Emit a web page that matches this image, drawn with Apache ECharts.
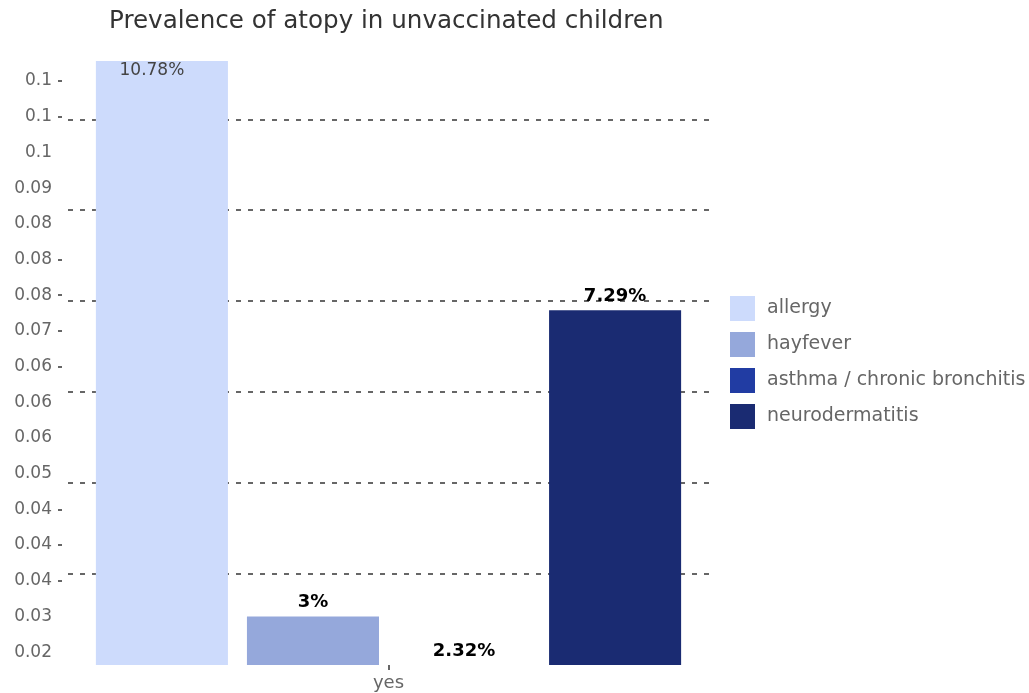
<!DOCTYPE html>
<html><head><meta charset="utf-8">
<script src="https://cdn.jsdelivr.net/npm/echarts@6/dist/echarts.min.js"></script>
<style>html,body{margin:0;padding:0;background:#fff}#c{width:1029px;height:693px}</style>
</head><body><div id="c"></div>
<script>
// ---- data ----
const categories = ['yes'];
const seriesNames = ['allergy', 'hayfever', 'asthma / chronic bronchitis', 'neurodermatitis'];
const allergy = [0.1078];
const hayfever = [0.03];
const asthma = [0.0232];
const neurodermatitis = [0.0729];
const barLabels = ['10.78%', '3%', '2.32%', '7.29%'];
const yTickValues = [0.025, 0.03, 0.035, 0.04, 0.045, 0.05, 0.055, 0.06, 0.065, 0.07, 0.075, 0.08, 0.085, 0.09, 0.095, 0.1, 0.105];
const yTickLabels = ['0.02', '0.03', '0.04', '0.04', '0.04', '0.05', '0.06', '0.06', '0.06', '0.07', '0.08', '0.08', '0.08', '0.09', '0.1', '0.1', '0.1'];
const yTickMarks = [0.035, 0.04, 0.045, 0.065, 0.07, 0.075, 0.08, 0.1, 0.105];
const colors = ['#cddbfc', '#95a8db', '#213ca3', '#1a2b72'];

const allValues = [].concat(allergy, hayfever, asthma, neurodermatitis);
const yMin = Math.min.apply(null, allValues);
const yMax = Math.max.apply(null, allValues);
const FONT = 'DejaVu Sans';

function labelFor(v) {
  let best = 0, bd = Infinity;
  yTickValues.forEach((t, i) => { const d = Math.abs(t - v); if (d < bd) { bd = d; best = i; } });
  return yTickLabels[best];
}

const seriesData = [allergy, hayfever, asthma, neurodermatitis];
const series = seriesData.map((d, i) => ({
  name: seriesNames[i],
  type: 'bar',
  data: d,
  yAxisIndex: 0,
  barCategoryGap: '8.7%',
  barGap: '14.4%',
  itemStyle: { color: colors[i] },
  label: i === 0 ? {
    show: true, position: 'insideTop', distance: 1, offset: [-10, 0],
    formatter: () => barLabels[i], color: '#444', fontSize: 17, fontFamily: FONT
  } : {
    show: true, position: 'top', distance: 5,
    formatter: () => barLabels[i], color: '#000', fontSize: 18, fontWeight: 'bold', fontFamily: FONT
  }
}));

const chart = echarts.init(document.getElementById('c'), null, { renderer: 'canvas' });
chart.setOption({
  animation: false,
  backgroundColor: '#fff',
  title: {
    text: 'Prevalence of atopy in unvaccinated children',
    left: 104, top: 4,
    textStyle: { fontFamily: FONT, fontSize: 24.6, fontWeight: 'normal', color: '#333' }
  },
  legend: {
    orient: 'vertical', left: 730, top: 296, padding: 0,
    itemWidth: 25, itemHeight: 25, itemGap: 11,
    icon: 'rect',
    data: seriesNames,
    textStyle: { fontFamily: FONT, fontSize: 19, color: '#666', padding: [0, 0, 0, 7] }
  },
  grid: { left: 68, right: 320, top: 61, bottom: 28, containLabel: false },
  xAxis: {
    type: 'category', data: categories,
    axisLine: { show: false },
    axisTick: { show: true, alignWithLabel: true, length: 5, lineStyle: { color: '#666', width: 2 } },
    axisLabel: { fontFamily: FONT, fontSize: 18, color: '#666', margin: 9 },
    splitLine: { show: false }
  },
  yAxis: [{
    type: 'value', min: yMin, max: yMax, offset: 6,
    axisLine: { show: false },
    axisTick: { show: true, length: 4, customValues: yTickMarks, lineStyle: { color: '#666', width: 2 } },
    axisLabel: { customValues: yTickValues, formatter: (v) => labelFor(v), fontFamily: FONT, fontSize: 17, color: '#666', margin: 10 },
    splitLine: { show: false }
  }, {
    type: 'value', min: yMin, max: yMax, interval: 0.01274, position: 'left',
    axisLine: { show: false }, axisTick: { show: false }, axisLabel: { show: false },
    splitLine: { show: true, showMinLine: false, showMaxLine: false, lineStyle: { color: '#666', width: 2, type: [5, 7] } }
  }],
  series: series
});
</script></body></html>
